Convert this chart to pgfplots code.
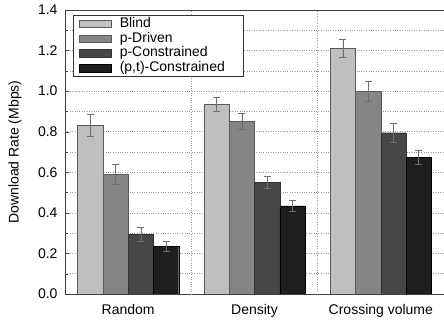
\documentclass[border=0pt]{standalone}
\usepackage{fontspec}
\setmainfont{Liberation Sans}
\usepackage{pgfplots}
\pgfplotsset{compat=1.18}
\usepackage{pgfplotstable}
\definecolor{cA}{HTML}{BFBFBF}
\definecolor{cB}{HTML}{858585}
\definecolor{cC}{HTML}{464646}
\definecolor{cD}{HTML}{1E1E1E}
\definecolor{edge}{HTML}{5A5A5A}
\definecolor{errc}{HTML}{6E6E6E}
\pgfplotstableread{
x y e
0 0.83 0.055
1 0.935 0.035
2 1.21 0.045
}\blind
\pgfplotstableread{
x y e
0 0.59 0.05
1 0.85 0.04
2 1.00 0.05
}\pdriven
\pgfplotstableread{
x y e
0 0.295 0.035
1 0.55 0.03
2 0.795 0.045
}\pcon
\pgfplotstableread{
x y e
0 0.235 0.025
1 0.435 0.025
2 0.675 0.035
}\ptcon
\begin{document}
\begin{tikzpicture}
\useasboundingbox (0,0) rectangle (444bp,322bp);
\begin{axis}[
  at={(65bp,28bp)}, anchor=south west,
  scale only axis, width=379bp, height=284bp,
  font=\fontsize{14bp}{16bp}\selectfont,
  /pgf/number format/assume math mode=true,
  ybar=0pt, bar width=0.2,
  xmin=-0.5, xmax=2.5, ymin=0, ymax=1.4,
  axis x line*=box, axis y line*=left,
  axis line style={draw=black!75, line width=0.8pt},
  xtick={0,1,2}, xticklabels={Random,Density,Crossing volume},
  major x tick style={draw=none},
  extra x ticks={0.5,1.5}, extra x tick labels={},
  extra x tick style={grid=major, major tick length=0pt},
  ytick={0,0.2,0.4,0.6,0.8,1.0,1.2,1.4},
  minor y tick num=1,
  yticklabel style={/pgf/number format/fixed, /pgf/number format/fixed zerofill, /pgf/number format/precision=1, xshift=-4bp},
  xticklabel style={yshift=-3bp},
  ymajorgrids, yminorgrids,
  grid style={dotted, gray!80, line width=0.6pt},
  tick style={black!75},
  major tick length=4bp, minor tick length=2.5bp,
  ylabel={Download Rate (Mbps)},
  ylabel style={at={(axis description cs:-0.132,0.5)}, anchor=center},
  legend style={at={(0.021,0.982)}, anchor=north west, draw=black!80, line width=0.8pt,
    font=\fontsize{14bp}{14bp}\selectfont, inner xsep=6bp, inner ysep=1bp,
    row sep=0pt,
    nodes={inner sep=0.8bp, text height=10bp, text depth=3.2bp}},
  legend cell align=left,
  legend image code/.code={\draw[#1, line width=0.5pt] (0bp,-3.8bp) rectangle (32bp,3.8bp); \path (39bp,0bp);},
  error bars/y dir=both, error bars/y explicit,
  error bars/error bar style={errc, line width=0.6pt},
  error bars/error mark options={rotate=90, errc, mark size=3.5bp, line width=0.6pt},
]
\addplot[fill=cA, draw=edge] table[x=x, y=y, y error=e]{\blind};
\addplot[fill=cB, draw=edge] table[x=x, y=y, y error=e]{\pdriven};
\addplot[fill=cC, draw=black!80] table[x=x, y=y, y error=e]{\pcon};
\addplot[fill=cD, draw=black] table[x=x, y=y, y error=e]{\ptcon};
\legend{Blind, p-Driven, p-Constrained, (p,t)-Constrained\rule{12bp}{0pt}}
\end{axis}
\end{tikzpicture}
\end{document}
